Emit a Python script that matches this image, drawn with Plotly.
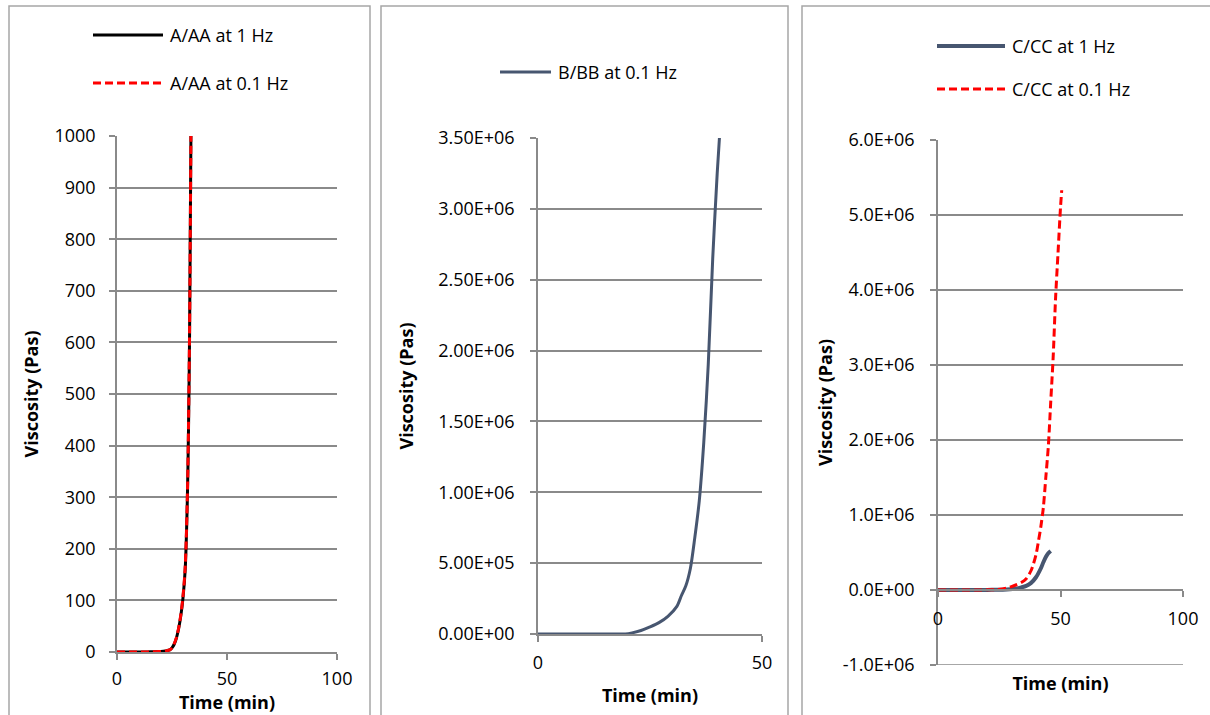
import plotly.graph_objects as go

# ---------------- data ----------------
series_names = ["A/AA at 1 Hz", "A/AA at 0.1 Hz", "B/BB at 0.1 Hz", "C/CC at 1 Hz", "C/CC at 0.1 Hz"]

tA1 = [0, 2, 4, 6, 8, 10, 12, 14, 16, 18, 20, 22, 24, 25, 26, 27, 28, 29, 30, 31, 32, 32.5, 33, 33.6]
vA1 = [0, 0, 0, 0, 0, 0, 0, 0.2, 0.4, 0.7, 1, 2, 4, 8, 15, 27, 45, 70, 105, 160, 300, 430, 620, 1000]
tA2 = [0, 2, 4, 6, 8, 10, 12, 14, 16, 18, 20, 22, 24, 25, 26, 27, 28, 29, 30, 31, 32, 32.5, 33, 33.6]
vA2 = [0, 0, 0, 0, 0, 0, 0, 0.2, 0.4, 0.7, 1, 2, 4, 8, 16, 28, 46, 72, 108, 165, 305, 440, 630, 1000]

tB = [0, 2, 4, 6, 8, 10, 12, 14, 16, 18, 19.5, 21, 23, 25, 27, 29, 31, 32, 33, 34, 35, 36, 37, 38, 39, 40, 40.5]
vB = [0, 0, 0, 0, 0, 0, 0, 0, 0, 0, 0, 8e3, 25e3, 50e3, 80e3, 125e3, 195e3, 270e3, 340e3, 460e3,
      680e3, 940e3, 1.35e6, 1.9e6, 2.65e6, 3.25e6, 3.5e6]

tC1 = [0, 4, 8, 12, 16, 20, 24, 28, 32, 34, 36, 38, 40, 42, 43, 44, 45, 46]
vC1 = [0, 0, 0, 0, 0, 1e3, 3e3, 8e3, 20e3, 35e3, 55e3, 95e3, 170e3, 290e3, 370e3, 440e3, 490e3, 520e3]

tC2 = [0, 4, 8, 12, 16, 20, 24, 28, 30, 32, 34, 36, 38, 40, 41, 42, 43, 44, 45, 46, 47, 48, 49, 50, 50.5]
vC2 = [0, 0, 0, 0, 0, 2e3, 6e3, 25e3, 45e3, 70e3, 100e3, 150e3, 260e3, 470e3, 650e3, 850e3, 1.1e6,
       1.5e6, 1.9e6, 2.5e6, 3.1e6, 3.9e6, 4.5e6, 5.1e6, 5.33e6]

y1_ticks = [0, 100, 200, 300, 400, 500, 600, 700, 800, 900, 1000]
y2_ticks = [0, 5e5, 1e6, 1.5e6, 2e6, 2.5e6, 3e6, 3.5e6]
y2_labels = ["0.00E+00", "5.00E+05", "1.00E+06", "1.50E+06", "2.00E+06", "2.50E+06", "3.00E+06", "3.50E+06"]
y3_ticks = [-1e6, 0, 1e6, 2e6, 3e6, 4e6, 5e6, 6e6]
y3_labels = ["-1.0E+06", "0.0E+00", "1.0E+06", "2.0E+06", "3.0E+06", "4.0E+06", "5.0E+06", "6.0E+06"]
x_title = "Time (min)"
y_title = "Viscosity (Pas)"

# ---------------- style ----------------
W, H = 1210, 715
FONT = "Open Sans"
GRID = "#8A8A8A"
BORDER = "#A6A6A6"
SLATE = "#475670"
RED = "#FF0000"


def px(x):
    return x / W


def py(y):
    return 1 - y / H


fig = go.Figure()

spl = dict(shape="spline", smoothing=0.8)
fig.add_trace(go.Scatter(x=tA1, y=vA1, name=series_names[0], mode="lines",
                         line=dict(color="black", width=3, **spl), xaxis="x", yaxis="y"))
fig.add_trace(go.Scatter(x=tA2, y=vA2, name=series_names[1], mode="lines",
                         line=dict(color=RED, width=3, dash="8px,4px", **spl), xaxis="x", yaxis="y"))
fig.add_trace(go.Scatter(x=tB, y=vB, name=series_names[2], mode="lines",
                         line=dict(color=SLATE, width=3, **spl), xaxis="x2", yaxis="y2"))
fig.add_trace(go.Scatter(x=tC1, y=vC1, name=series_names[3], mode="lines",
                         line=dict(color=SLATE, width=4, **spl), xaxis="x3", yaxis="y3"))
fig.add_trace(go.Scatter(x=tC2, y=vC2, name=series_names[4], mode="lines",
                         line=dict(color=RED, width=3, dash="8px,4px", **spl), xaxis="x3", yaxis="y3"))

tickfont = dict(family=FONT, size=18, color="black")
titlefont = dict(family=FONT, size=18, color="black", weight="bold")
common = dict(showline=True, linecolor=GRID, linewidth=1.5, ticks="outside", ticklen=6,
              tickcolor=GRID, tickwidth=1.5, tickfont=tickfont, zeroline=False,
              fixedrange=True, automargin=False)

# domains (pixels -> paper)
d1x, d1y = [px(117), px(337)], [py(652), py(136)]
d2x, d2y = [px(538), px(762)], [py(634), py(138)]
d3x, d3y = [px(938), px(1183)], [py(665), py(140)]
y3_range = [-1e6, 6e6]
x3_pos = d3y[0] + (0 - y3_range[0]) / (y3_range[1] - y3_range[0]) * (d3y[1] - d3y[0])

fig.update_layout(
    width=W, height=H,
    margin=dict(l=0, r=0, t=0, b=0),
    paper_bgcolor="white", plot_bgcolor="white",
    showlegend=False,
    xaxis=dict(domain=d1x, anchor="y", range=[0, 100], tickvals=[0, 50, 100], showgrid=False,
               ticklabelstandoff=4,
               title=dict(text=x_title, font=titlefont, standoff=6), **common),
    yaxis=dict(domain=d1y, anchor="x", range=[0, 1000], tickvals=y1_ticks, showgrid=True,
               gridcolor=GRID, gridwidth=1.5, ticklabelstandoff=10,
               title=dict(text=y_title, font=titlefont, standoff=11), **common),
    xaxis2=dict(domain=d2x, anchor="y2", range=[0, 50], tickvals=[0, 50], showgrid=False,
                ticklabelstandoff=6,
                title=dict(text=x_title, font=titlefont, standoff=16), **common),
    yaxis2=dict(domain=d2y, anchor="x2", range=[0, 3.5e6], tickvals=y2_ticks, ticktext=y2_labels,
                showgrid=True, gridcolor=GRID, gridwidth=1.5, ticklabelstandoff=12,
                title=dict(text=y_title, font=titlefont, standoff=20), **common),
    xaxis3=dict(domain=d3x, anchor="free", position=x3_pos, range=[0, 100], tickvals=[0, 50, 100],
                showgrid=False, ticklabelstandoff=7,
                title=dict(text=x_title, font=titlefont, standoff=47), **common),
    yaxis3=dict(domain=d3y, anchor="x3", range=y3_range, tickvals=y3_ticks, ticktext=y3_labels,
                showgrid=True, gridcolor=GRID, gridwidth=1.5, ticklabelstandoff=12,
                title=dict(text=y_title, font=titlefont, standoff=5), **common),
)

shapes = []
# bottom gridline of the third panel (clipped by plotly at the range edge)
shapes.append(dict(type="line", xref="x3", yref="y3", x0=0, x1=100, y0=y3_range[0], y1=y3_range[0],
                   line=dict(color=GRID, width=1.5), layer="below"))

# panel borders
for x0, x1 in [(9, 370), (381, 788), (802, 1214)]:
    shapes.append(dict(type="rect", xref="paper", yref="paper", x0=px(x0), x1=px(x1),
                       y0=py(725), y1=py(6), line=dict(color=BORDER, width=1.5), layer="below"))

# legends (drawn manually to match the long sample lines)
legend_items = [
    (series_names[0], 93, 163, 35, "black", 3, "solid"),
    (series_names[1], 93, 163, 83, RED, 3, "8px,4px"),
    (series_names[2], 500, 551, 72, SLATE, 3, "solid"),
    (series_names[3], 937, 1005, 46, SLATE, 4, "solid"),
    (series_names[4], 937, 1005, 89, RED, 3, "8px,4px"),
]
annotations = []
for name, x0, x1, y, color, w, dash in legend_items:
    shapes.append(dict(type="line", xref="paper", yref="paper", x0=px(x0), x1=px(x1),
                       y0=py(y), y1=py(y), line=dict(color=color, width=w, dash=dash)))
    annotations.append(dict(text=name, xref="paper", yref="paper", x=px(x1 + 5), y=py(y),
                            xanchor="left", yanchor="middle", showarrow=False,
                            font=dict(family=FONT, size=18, color="black")))

fig.update_layout(shapes=shapes, annotations=annotations)

fig.write_html("out.html")
